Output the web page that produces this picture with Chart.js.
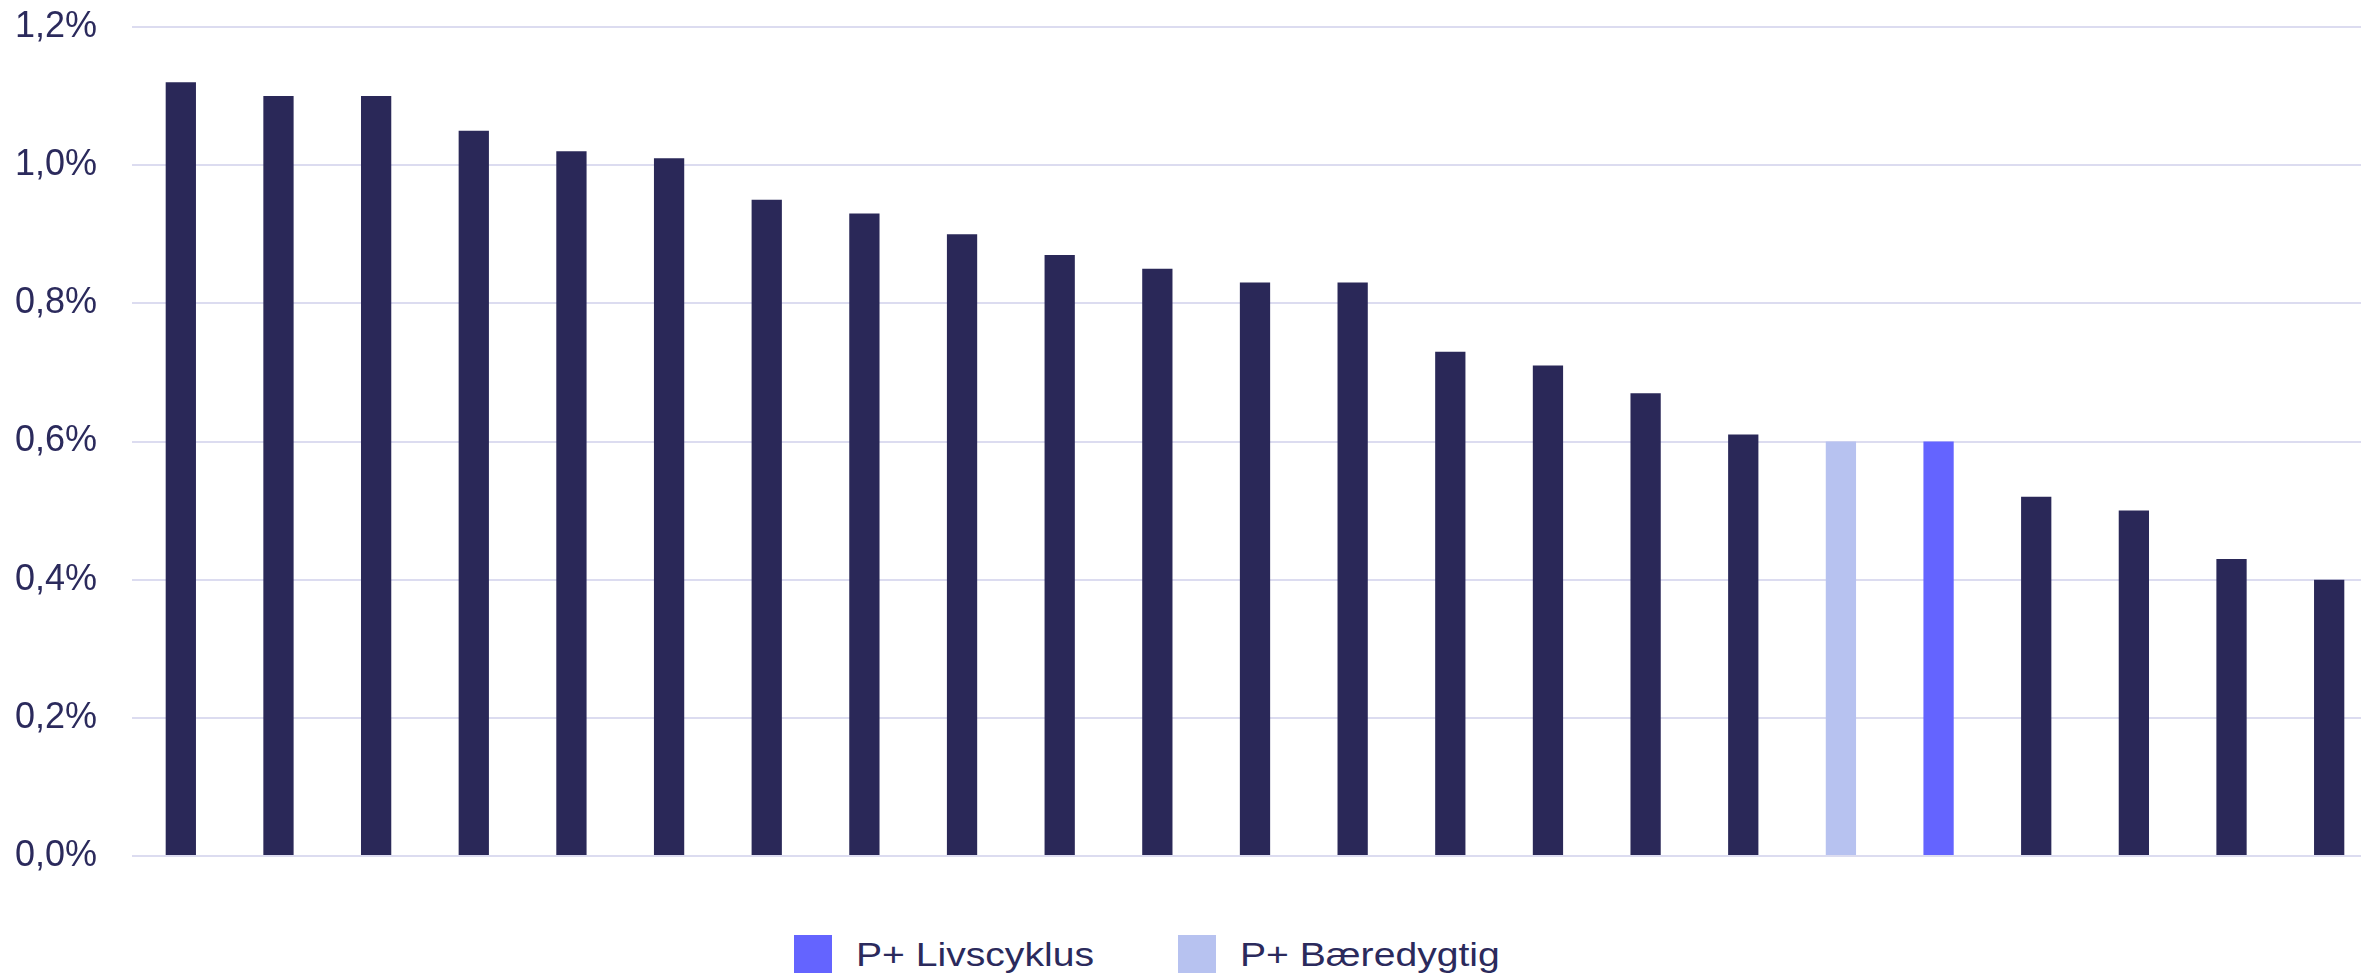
<!DOCTYPE html>
<html lang="da">
<head>
<meta charset="utf-8">
<title>Omkostninger</title>
<script src="https://cdn.jsdelivr.net/npm/chart.js@4.4.1/dist/chart.umd.min.js"></script>
<style>
  html, body { margin: 0; padding: 0; background: #fff; overflow: hidden; }
  body { width: 2361px; height: 975px; position: relative; }
  .chart-wrap { position: absolute; left: 0; top: 0; width: 2378px; height: 880px; }
  .legend-item { position: absolute; top: 935px; height: 38px; display: flex; align-items: center; }
  .legend-box { width: 38px; height: 38px; margin-right: 24px; }
  .legend-text {
    font-family: "Liberation Sans", Arial, sans-serif;
    font-size: 34px;
    color: #2b2a5c;
    transform: scaleX(1.15);
    transform-origin: left center;
    white-space: nowrap;
  }
</style>
</head>
<body>
<div class="chart-wrap"><canvas id="costChart"></canvas></div>
<div class="legend-item" style="left:794px"><div class="legend-box" style="background:#6464ff"></div><span class="legend-text">P+ Livscyklus</span></div>
<div class="legend-item" style="left:1178px"><div class="legend-box" style="background:#b7c2f0"></div><span class="legend-text">P+ Bæredygtig</span></div>
<script>
// Funds, sorted by cost (%)
const funds = [
  'Fond 1', 'Fond 2', 'Fond 3', 'Fond 4', 'Fond 5', 'Fond 6', 'Fond 7', 'Fond 8',
  'Fond 9', 'Fond 10', 'Fond 11', 'Fond 12', 'Fond 13', 'Fond 14', 'Fond 15', 'Fond 16',
  'Fond 17', 'P+ Bæredygtig', 'P+ Livscyklus', 'Fond 20', 'Fond 21', 'Fond 22', 'Fond 23'
];
const costs = [
  1.12, 1.10, 1.10, 1.05, 1.02, 1.01, 0.95, 0.93, 0.90, 0.87, 0.85, 0.83,
  0.83, 0.73, 0.71, 0.67, 0.61, 0.60, 0.60, 0.52, 0.50, 0.43, 0.40
];
const yTicks = [0, 0.2, 0.4, 0.6, 0.8, 1.0, 1.2];

const NAVY = '#2a2858';
const highlight = {
  'P+ Livscyklus': '#6464ff',
  'P+ Bæredygtig': '#b7c2f0'
};

function initCostChart() {
  const ctx = document.getElementById('costChart').getContext('2d');
  new Chart(ctx, {
    type: 'bar',
    data: {
      labels: funds,
      datasets: [{
        data: costs,
        backgroundColor: funds.map(f => highlight[f] || NAVY),
        borderWidth: 0,
        barPercentage: 0.31,
        categoryPercentage: 1
      }]
    },
    options: {
      responsive: true,
      maintainAspectRatio: false,
      animation: false,
      layout: { padding: { top: 27, bottom: 24, left: 0, right: 0 } },
      plugins: {
        legend: { display: false },
        tooltip: { enabled: false }
      },
      scales: {
        x: { display: false },
        y: {
          min: 0,
          max: 1.2,
          afterBuildTicks: scale => { scale.ticks = yTicks.map(v => ({ value: v })); },
          // fixed axis width, and keep the tick padding from growing the plot margins
          afterFit: scale => {
            scale.width = 132;
            scale.paddingTop = 0;
            scale.paddingBottom = 0;
          },
          border: { display: false },
          grid: { color: '#dcdcf0', lineWidth: 2, drawTicks: false },
          ticks: {
            padding: 35,
            color: '#2b2a5c',
            font: { family: '"Liberation Sans", Arial, sans-serif', size: 36 },
            callback: v => v.toFixed(1).replace('.', ',') + '%'
          }
        }
      }
    }
  });
}

document.addEventListener('DOMContentLoaded', initCostChart);
</script>
</body>
</html>
